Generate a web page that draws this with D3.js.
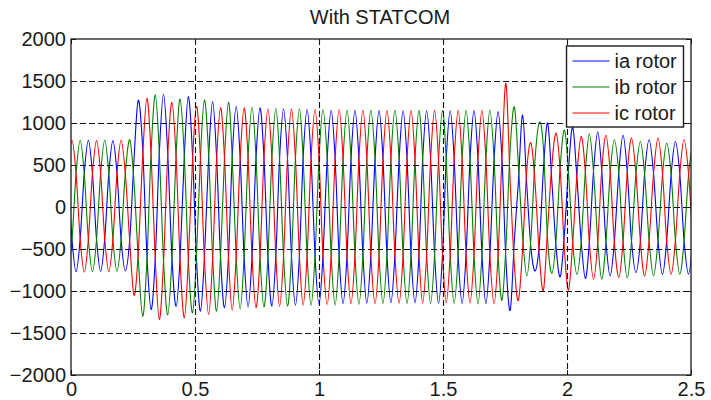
<!DOCTYPE html>
<html>
<head>
<meta charset="utf-8">
<script src="https://d3js.org/d3.v7.min.js"></script>
<style>
  body { margin: 0; background: #fff; }
  svg { display: block; font-family: "Liberation Sans", Arial, Helvetica, sans-serif; }
</style>
</head>
<body>
<svg width="711" height="400"></svg>
<script>
/* global d3 */

// time (s) of the samples: one sample every 1/6 of a rotor cycle
var tSec = [
  -0.012,
  0.004, 0.0205, 0.037, 0.0535, 0.070, 0.0865,
  0.103, 0.1195, 0.136, 0.1525, 0.169, 0.1855,
  0.202, 0.219, 0.237, 0.254, 0.271, 0.289,
  0.306, 0.323, 0.340, 0.356, 0.373, 0.390,
  0.407, 0.424, 0.440, 0.457, 0.473, 0.490,
  0.506, 0.522, 0.538, 0.555, 0.571, 0.587,
  0.603, 0.619, 0.635, 0.650, 0.666, 0.682,
  0.698, 0.714, 0.730, 0.746, 0.762, 0.778,
  0.794, 0.810, 0.826, 0.841, 0.857, 0.873,
  0.889, 0.905, 0.921, 0.936, 0.952, 0.968,
  0.984, 1.000, 1.016, 1.033, 1.049, 1.065,
  1.081, 1.097, 1.113, 1.129, 1.145, 1.161,
  1.177, 1.193, 1.209, 1.226, 1.242, 1.258,
  1.274, 1.290, 1.306, 1.323, 1.339, 1.355,
  1.371, 1.387, 1.403, 1.418, 1.434, 1.450,
  1.466, 1.482, 1.498, 1.513, 1.529, 1.545,
  1.561, 1.577, 1.593, 1.609, 1.625, 1.641,
  1.657, 1.673, 1.689, 1.706, 1.722, 1.738,
  1.754, 1.771, 1.788, 1.804, 1.821, 1.838,
  1.855, 1.872, 1.889, 1.905, 1.922, 1.939,
  1.956, 1.973, 1.990, 2.006, 2.023, 2.040,
  2.057, 2.074, 2.090, 2.107, 2.124, 2.140,
  2.157, 2.174, 2.191, 2.209, 2.226, 2.243,
  2.260, 2.278, 2.296, 2.313, 2.331, 2.349,
  2.367, 2.385, 2.402, 2.420, 2.437, 2.455,
  2.472, 2.490, 2.507
];

// ia rotor (blauw)
var iaRotor = [
  395,
  -385, -770, -380, 400, 795, 395,
  -385, -765, -380, 400, 790, 400,
  -385, -760, -380, 560, 1270, 700,
  -560, -1220, -600, 640, 1345, 640,
  -600, -1185, -590, 610, 1315, 620,
  -620, -1240, -600, 600, 1255, 600,
  -600, -1200, -590, 590, 1200, 590,
  -590, -1190, -590, 580, 1180, 590,
  -590, -1180, -580, 580, 1170, 580,
  -580, -1170, -580, 580, 1160, 580,
  -580, -1160, -575, 575, 1155, 575,
  -575, -1150, -575, 570, 1150, 570,
  -570, -1145, -570, 570, 1150, 570,
  -570, -1140, -570, 565, 1145, 570,
  -565, -1140, -570, 565, 1145, 570,
  -565, -1145, -570, 565, 1145, 570,
  -565, -1150, -570, 565, 1150, 570,
  -565, -1150, -570, 565, 1135, 560,
  -650, -1230, -380, 300, 1095, 250,
  -500, -760, -420, 450, 1000, 300,
  -480, -830, -300, 450, 950, 350,
  -400, -850, -420, 430, 895, 430,
  -410, -820, -410, 420, 855, 420,
  -400, -780, -400, 400, 800, 400,
  -400, -800, -400, 390, 780, 390,
  -400, -800, -400
];

// ib rotor (groen)
var ibRotor = [
  -770,
  -390, 400, 795, 395, -385, -770,
  -385, 400, 795, 400, -385, -765,
  -385, 400, 800, 300, -600, -1300,
  -640, 660, 1335, 650, -630, -1285,
  -620, 640, 1285, 600, -620, -1260,
  -580, 600, 1275, 620, -590, -1240,
  -580, 590, 1250, 600, -590, -1215,
  -590, 590, 1190, 590, -580, -1190,
  -590, 580, 1175, 580, -580, -1180,
  -590, 580, 1170, 580, -580, -1170,
  -580, 575, 1160, 580, -575, -1165,
  -580, 570, 1155, 575, -570, -1160,
  -575, 570, 1150, 570, -570, -1150,
  -570, 570, 1150, 570, -570, -1150,
  -570, 565, 1150, 570, -565, -1150,
  -570, 565, 1150, 570, -565, -1150,
  -570, 565, 1150, 570, -565, -1155,
  -570, 565, 1155, 570, -565, -1110,
  -450, 700, 1190, 500, -350, -820,
  -350, 600, 1010, 700, -400, -790,
  -380, 500, 915, 420, -420, -800,
  -420, 420, 870, 420, -410, -860,
  -420, 400, 800, 400, -410, -845,
  -410, 390, 780, 390, -400, -820,
  -400, 380, 760, 380, -390, -800,
  -400, 380, 760
];

// ic rotor (rood)
var icRotor = [
  400,
  795, 395, -385, -775, -385, 400,
  790, 400, -380, -770, -385, 400,
  795, 400, -420, -1050, -550, 600,
  1295, 620, -640, -1340, -660, 610,
  1245, 580, -650, -1320, -640, 560,
  1200, 580, -620, -1280, -620, 560,
  1180, 580, -600, -1230, -600, 570,
  1180, 580, -590, -1200, -600, 580,
  1170, 580, -590, -1185, -590, 580,
  1165, 580, -580, -1170, -580, 575,
  1160, 575, -580, -1160, -580, 575,
  1160, 575, -575, -1150, -575, 570,
  1155, 570, -570, -1150, -575, 570,
  1150, 570, -570, -1145, -570, 565,
  1150, 570, -565, -1140, -570, 565,
  1150, 570, -565, -1140, -570, 565,
  1150, 570, -565, -1145, -570, 565,
  1150, 570, -565, -1150, -570, 600,
  1470, 300, -700, -1110, -500, 450,
  760, 250, -600, -990, -250, 500,
  880, 420, -520, -990, -430, 380,
  840, 420, -420, -860, -420, 430,
  855, 420, -420, -840, -410, 410,
  820, 400, -410, -820, -400, 400,
  820, 400, -400, -800, -400, 400,
  800, 400, -400
];

var seriesNames = ["ia rotor", "ib rotor", "ic rotor"];
var xTicks = [0, 0.5, 1, 1.5, 2, 2.5];
var yTicks = [-2000, -1500, -1000, -500, 0, 500, 1000, 1500, 2000];
var titleText = "With STATCOM";

// svg en marges
var svg = d3.select("svg"),
    margin = {top: 39, right: 20, bottom: 25, left: 71},
    width = +svg.attr("width") - margin.left - margin.right,
    height = +svg.attr("height") - margin.top - margin.bottom;

var xAs = d3.scaleLinear().domain([0, 2.5]).range([0, width]),
    yAs = d3.scaleLinear().domain([-2000, 2000]).range([height, 0]);

var kleuren = ["#0000ff", "#008000", "#ff0000"];
var inkt = "#1a1a1a";

svg.append("text")
    .attr("x", margin.left + width / 2 - 1)
    .attr("y", 24)
    .attr("text-anchor", "middle")
    .attr("font-size", "20px")
    .attr("fill", inkt)
    .text(titleText);

var groep = svg.append("g")
    .attr("transform", "translate(" + margin.left + "," + margin.top + ")");

groep.append("clipPath")
    .attr("id", "plotclip")
    .append("rect")
    .attr("width", width)
    .attr("height", height);

// de lijnen
var reeksen = [iaRotor, ibRotor, icRotor];

var lijn = d3.line()
    .x(function (d, i) { return xAs(tSec[i]); })
    .y(function (d) { return yAs(d); })
    .curve(d3.curveCatmullRom.alpha(0));

groep.append("g")
    .attr("clip-path", "url(#plotclip)")
    .selectAll("path")
    .data(reeksen)
    .enter().append("path")
    .attr("d", lijn)
    .attr("fill", "none")
    .attr("stroke", function (d, i) { return kleuren[i]; })
    .attr("stroke-width", 1.1);

// grid (gestreept)
var grid = groep.append("g").attr("class", "grid");

grid.selectAll(".gx")
    .data(xTicks.filter(function (d) { return d > 0 && d < 2.5; }))
    .enter().append("line")
    .attr("class", "gx")
    .attr("x1", function (d) { return Math.round(xAs(d)) + 0.5; })
    .attr("x2", function (d) { return Math.round(xAs(d)) + 0.5; })
    .attr("y1", 0)
    .attr("y2", height);

grid.selectAll(".gy")
    .data(yTicks.filter(function (d) { return d > -2000 && d < 2000; }))
    .enter().append("line")
    .attr("class", "gy")
    .attr("x1", 0)
    .attr("x2", width)
    .attr("y1", function (d) { return Math.round(yAs(d)) + 0.5; })
    .attr("y2", function (d) { return Math.round(yAs(d)) + 0.5; });

grid.selectAll("line")
    .attr("stroke", "#111")
    .attr("stroke-width", 1.1)
    .attr("stroke-dasharray", "6,3");

// assen met tick labels
var ax = groep.append("g")
    .attr("transform", "translate(0," + height + ")")
    .call(d3.axisBottom(xAs).tickValues(xTicks).tickFormat(d3.format("")).tickSizeInner(-5).tickSizeOuter(0).tickPadding(7));

var ay = groep.append("g")
    .call(d3.axisLeft(yAs).tickValues(yTicks).tickFormat(d3.format("")).tickSizeInner(-5).tickSizeOuter(0).tickPadding(5));

var axTop = groep.append("g")
    .call(d3.axisTop(xAs).tickValues(xTicks).tickFormat("").tickSizeInner(-5).tickSizeOuter(0));

var ayRight = groep.append("g")
    .attr("transform", "translate(" + width + ",0)")
    .call(d3.axisRight(yAs).tickValues(yTicks).tickFormat("").tickSizeInner(-5).tickSizeOuter(0));

[ax, ay, axTop, ayRight].forEach(function (a) {
    a.select(".domain").remove();
    a.selectAll("line").attr("stroke", inkt);
    a.selectAll("text")
        .attr("font-size", "20px")
        .attr("font-family", "'Liberation Sans', Arial, sans-serif")
        .attr("fill", inkt);
});

// kader
groep.append("rect")
    .attr("width", width)
    .attr("height", height)
    .attr("fill", "none")
    .attr("stroke", inkt)
    .attr("stroke-width", 1.3);

// legenda
var legenda = groep.append("g")
    .attr("transform", "translate(" + (xAs(2) - 0.5) + ",7)");

legenda.append("rect")
    .attr("width", 117)
    .attr("height", 81)
    .attr("fill", "#fff")
    .attr("stroke", inkt)
    .attr("stroke-width", 1.4);

var rij = legenda.selectAll(".rij")
    .data(seriesNames)
    .enter().append("g")
    .attr("class", "rij")
    .attr("transform", function (d, i) { return "translate(0," + (15 + i * 26) + ")"; });

rij.append("line")
    .attr("x1", 6)
    .attr("x2", 43)
    .attr("stroke", function (d, i) { return kleuren[i]; })
    .attr("stroke-width", 1.2);

rij.append("text")
    .attr("x", 48)
    .attr("dy", "0.35em")
    .attr("font-size", "20px")
    .attr("fill", inkt)
    .text(function (d) { return d; });
</script>
</body>
</html>
